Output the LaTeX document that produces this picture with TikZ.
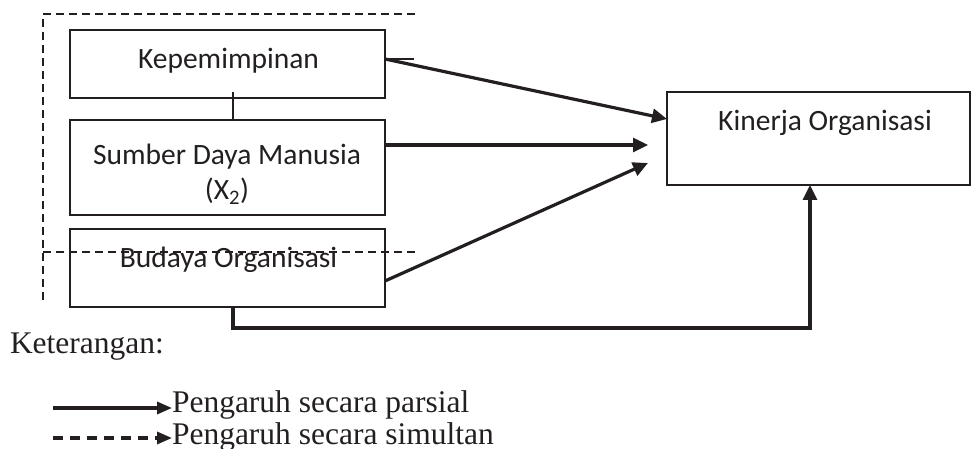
\documentclass[tikz,border=0pt]{standalone}
\usepackage{fontspec}
\setmainfont{Liberation Serif}
\newfontfamily\boxfont{Carlito}
\usepackage{tikz}
\usetikzlibrary{positioning}
\usetikzlibrary{calc}
\usetikzlibrary{arrows.meta}
\definecolor{ink}{HTML}{231F20}

\begin{document}
\begin{tikzpicture}[
		x=1pt, y=-1pt,
		every node/.style = {
			inner sep=0pt,
			outer sep=0pt,
			text=ink
		},
		box/.style = {
			shape=rectangle,
			draw=ink,
			line width=2.4pt,
			anchor=north west
		},
		boxtext/.style = {
			font=\boxfont\fontsize{29.5}{35}\selectfont,
			align=center
		},
		legtext/.style = {
			font=\fontsize{31.5}{36}\selectfont,
			anchor=base west
		},
		part/.style = {
			draw=ink,
			line width=3.2pt,
			-{Triangle[length=15pt,width=14pt]}
		},
		simul/.style = {
			draw=ink,
			line width=2.2pt,
			dash pattern=on 8pt off 5pt
		}
		]
		\useasboundingbox (0,0) rectangle (972,449);

		% boxes
		\node[box, minimum width=315pt, minimum height=68pt] (kep) at (70,30) {};
		\node[box, minimum width=315pt, minimum height=95pt] (sdm) at (70,120) {};
		\node[box, minimum width=315pt, minimum height=78pt] (bud) at (70,229) {};
		\node[box, minimum width=303pt, minimum height=93pt] (kin) at (667,92) {};

		\node[boxtext, anchor=base] (keplbl) at (228.5,69) {Kepemimpinan};
		\node[boxtext] (sdmlbl) at (227,174) {Sumber Daya Manusia \\ (X\textsubscript{2})};
		\node[boxtext, anchor=base] (budlbl) at (228.5,268) {Budaya Organisasi};
		\node[boxtext, anchor=base] (kinlbl) at (825,131) {Kinerja Organisasi};

		% simultaneous frame
		\coordinate (fr1) at (415,14);
		\coordinate (fr2) at (43,14);
		\coordinate (fr3) at (43,300);
		\coordinate (fr4) at (43,252);
		\coordinate (fr5) at (415,252);
		\draw[simul] (fr1) -- (fr2) -- (fr3);
		\draw[simul] (fr4) -- (fr5);

		% partial arrows
		\draw[draw=ink, line width=2.4pt] ([xshift=5.5pt,yshift=6pt]kep.south) -- ([xshift=5.5pt]sdm.north);
		\draw[draw=ink, line width=2.2pt] ([yshift=5pt]kep.east) -- ++(29,0);
		\draw[part] ([yshift=5pt]kep.east) -- ([yshift=19.5pt]kin.west);
		\draw[part] ([yshift=22.5pt]sdm.east) -- ([xshift=-19pt,yshift=-6.5pt]kin.west);
		\draw[part] ([yshift=-13pt]bud.east) -- ([xshift=-19pt,yshift=-24.5pt]kin.west);
		\coordinate (turn) at (810,328);
		\draw[part] ([xshift=5.5pt]bud.south) |- (turn) -- (turn |- kin.south);

		% legend
		\node[legtext] (ket) at (10,353) {Keterangan:};
		\node[legtext] (par) at (172,412) {Pengaruh secara parsial};
		\node[legtext] (sim) at (172,444) {Pengaruh secara simultan};
		\coordinate (lg1) at (53,408);
		\coordinate (lg2) at (53,438);
		\draw[part, -{Triangle[length=15pt,width=12pt]}] (lg1) -- (lg1 -| par.west);
		\draw[part, dash pattern=on 10pt off 7pt, -{Triangle[length=15pt,width=12pt]}] (lg2) -- (lg2 -| sim.west);
	\end{tikzpicture}
\end{document}
